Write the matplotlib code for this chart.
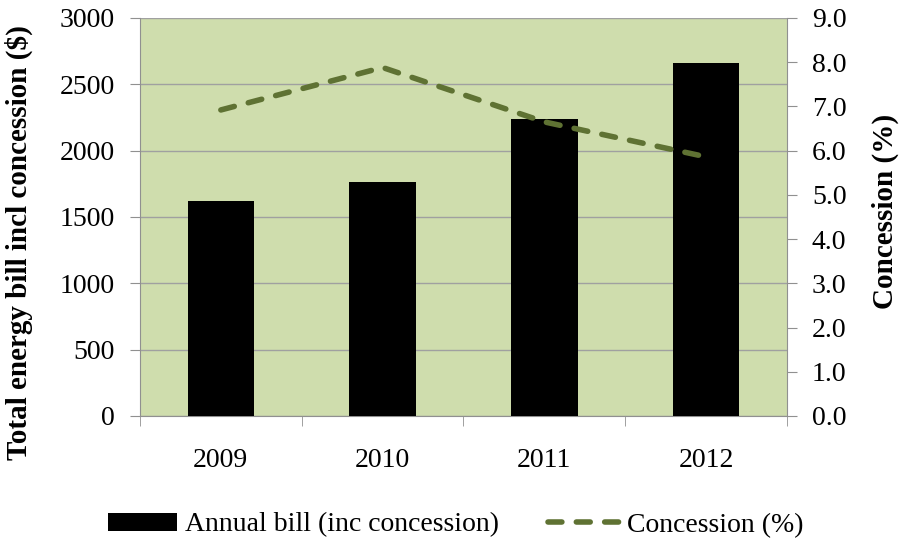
import numpy as np
import matplotlib.pyplot as plt

# ___ DATA ___
years = ['2009', '2010', '2011', '2012']
annual_bill = [1620, 1762, 2238, 2660]
concession_pct = [6.92, 7.88, 6.65, 5.86]

plt.rcParams['font.family'] = ['Liberation Serif', 'DejaVu Serif']
FS = 20

fig = plt.figure(figsize=(8.99, 5.43), dpi=100)
ax = fig.add_axes([0.1557, 0.2339, 0.7197, 0.733])
ax.set_facecolor('#cfddad')

x = np.arange(len(years))
bars = ax.bar(x, annual_bill, width=0.41, color='black', zorder=3)
ax.set_xlim(-0.5, len(years) - 0.5)
ax.set_ylim(0, 3000)
ax.set_yticks(range(0, 3001, 500))
ax.grid(axis='y', color='#a0a0a0', linewidth=1, zorder=0)
ax.set_axisbelow(True)

# category ticks sit between the labels
ax.set_xticks(x)
ax.set_xticklabels(years, fontsize=FS)
ax.set_xticks(np.arange(-0.5, len(years)), minor=True)
ax.tick_params(axis='x', which='major', length=0, pad=23)
ax.tick_params(axis='x', which='minor', length=7, color='#909090', direction='out')
ax.tick_params(axis='y', length=7, color='#909090', labelsize=FS, pad=11)
for s in ['top', 'right']:
    ax.spines[s].set_visible(False)
for s in ['left', 'bottom']:
    ax.spines[s].set_color('#909090')
ax.set_ylabel('Total energy bill incl concession ($)', fontsize=21, fontweight='bold')
ax.yaxis.set_label_coords(-0.165, 0.435)

ax2 = ax.twinx()
line, = ax2.plot(x, concession_pct, color='#5f7233', linewidth=4, dashes=(2.5, 2.6),
                 dash_capstyle='round', solid_joinstyle='round', zorder=4)
ax2.set_ylim(0, 9)
ax2.set_yticks(np.arange(0, 9.01, 1.0))
ax2.set_yticklabels([f'{v:.1f}' for v in np.arange(0, 9.01, 1.0)])
ax2.tick_params(axis='y', length=7, color='#909090', labelsize=FS, pad=11)
for s in ['top', 'left', 'bottom']:
    ax2.spines[s].set_visible(False)
ax2.spines['right'].set_color('#909090')
ax2.set_ylabel('Concession (%)', fontsize=21, fontweight='bold')
ax2.yaxis.set_label_coords(1.131, 0.513)

leg1 = fig.legend([bars], ['Annual bill (inc concession)'], loc='center left',
                  bbox_to_anchor=(108 / 899, 1 - 525 / 543), frameon=False, fontsize=FS,
                  handlelength=2.48, handleheight=0.6, handletextpad=0.29,
                  borderpad=0, borderaxespad=0)
leg2 = fig.legend([line], ['Concession (%)'], loc='center left',
                  bbox_to_anchor=(548 / 899, 1 - 525 / 543), frameon=False, fontsize=FS,
                  handlelength=2.66, handletextpad=0.18, borderpad=0, borderaxespad=0)

fig.savefig('out.png', dpi=100)
